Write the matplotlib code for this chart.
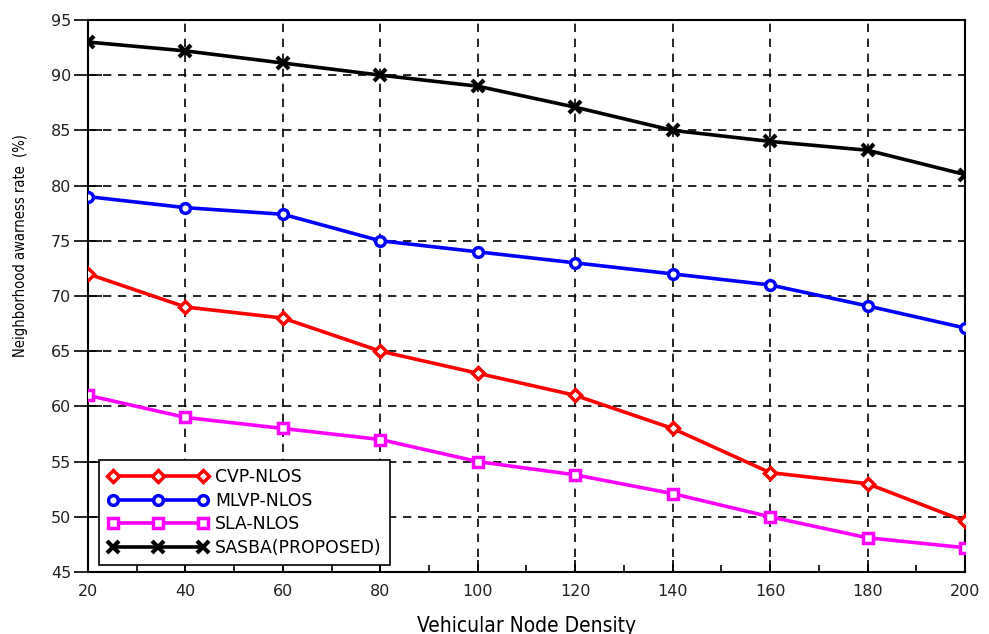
import matplotlib
matplotlib.use("Agg")
import matplotlib.pyplot as plt
from matplotlib.ticker import MultipleLocator

density = [20, 40, 60, 80, 100, 120, 140, 160, 180, 200]
cvp_nlos = [72, 69, 68, 65, 63, 61, 58, 54, 53, 49.6]
mlvp_nlos = [79, 78, 77.4, 75, 74, 73, 72, 71, 69.1, 67.1]
sla_nlos = [61, 59, 58, 57, 55, 53.8, 52.1, 50, 48.1, 47.2]
sasba = [93, 92.2, 91.1, 90, 89, 87.1, 85, 84, 83.2, 81]

cond = dict(family="DejaVu Sans", stretch="condensed")

fig = plt.figure(figsize=(9.89, 6.34), dpi=100)
ax = fig.add_axes([0.089, 0.0978, 0.8867, 0.8707])

lw = 2.6
ax.plot(density, cvp_nlos, color="red", lw=lw, marker="D", ms=6.5, mfc="white", mec="red", mew=2.5, label="CVP-NLOS", zorder=3)
ax.plot(density, mlvp_nlos, color="blue", lw=lw, marker="o", ms=7, mfc="white", mec="blue", mew=2.5, label="MLVP-NLOS", zorder=3)
ax.plot(density, sla_nlos, color="magenta", lw=lw, marker="s", ms=7, mfc="white", mec="magenta", mew=2.5, label="SLA-NLOS", zorder=3)
ax.plot(density, sasba, color="black", lw=lw, marker="x", ms=8, mec="black", mew=3, label="SASBA(PROPOSED)", zorder=3)

ax.set_xlim(20, 200)
ax.set_ylim(45, 95)
ax.xaxis.set_major_locator(MultipleLocator(20))
ax.xaxis.set_minor_locator(MultipleLocator(10))
ax.yaxis.set_major_locator(MultipleLocator(5))

ax.grid(True, which="major", color="black", linestyle=(0, (5, 4)), linewidth=1.2)
ax.tick_params(axis="x", which="major", direction="in", length=9, width=1.2, pad=9)
ax.tick_params(axis="x", which="minor", direction="in", length=5, width=1.2)
ax.tick_params(axis="y", which="major", direction="inout", length=20, width=1.2, pad=2)
for s in ax.spines.values():
    s.set_linewidth(1.5)

for lab in ax.get_xticklabels() + ax.get_yticklabels():
    lab.set_fontsize(11.5)
    lab.set_color("#222222")

ax.set_xlabel("Vehicular Node Density", fontsize=15, va="top", **cond)
ax.xaxis.set_label_coords(0.5, -0.079)
ax.set_ylabel("Neighborhood awarness rate  (%)", fontsize=10.5, **cond)
ax.yaxis.set_label_coords(-0.0684, 0.5906)

leg = ax.legend(loc="lower left", bbox_to_anchor=(0.013, 0.012), numpoints=3, handlelength=5.8,
                prop=dict(size=12.4, family="DejaVu Sans"), frameon=True, fancybox=False, edgecolor="black",
                borderpad=0.5, labelspacing=0.32, handletextpad=0.4, borderaxespad=0)
leg.get_frame().set_linewidth(1.2)
leg.get_frame().set_alpha(1)

fig.savefig("out.png", dpi=100)
